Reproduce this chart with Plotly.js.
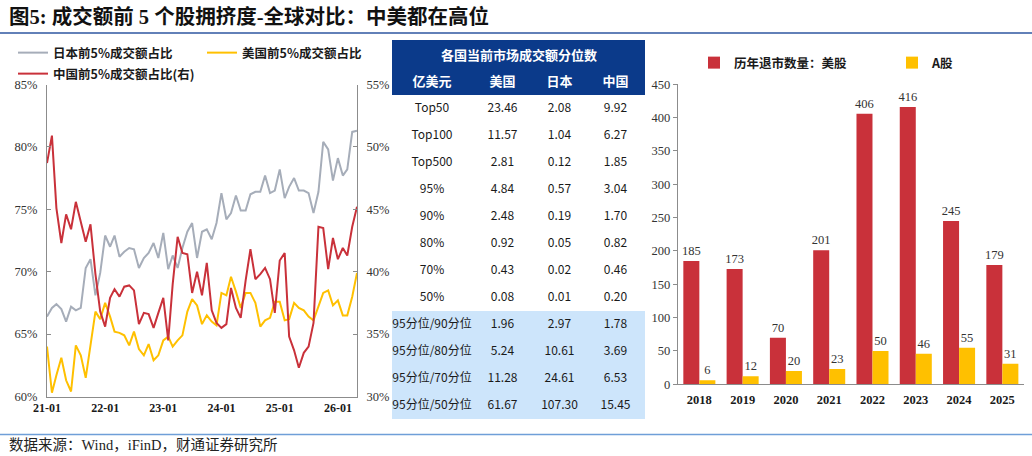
<!DOCTYPE html>
<html><head><meta charset="utf-8">
<script src="https://cdn.plot.ly/plotly-3.0.1.min.js"></script>
<style>body{margin:0;background:#fff}#chart{width:1032px;height:456px}</style>
</head><body><div id="chart"></div>
<script>
// ---- data ----
const months = ['2021-01','2021-02','2021-03','2021-04','2021-05','2021-06','2021-07','2021-08','2021-09','2021-10','2021-11','2021-12',
'2022-01','2022-02','2022-03','2022-04','2022-05','2022-06','2022-07','2022-08','2022-09','2022-10','2022-11','2022-12',
'2023-01','2023-02','2023-03','2023-04','2023-05','2023-06','2023-07','2023-08','2023-09','2023-10','2023-11','2023-12',
'2024-01','2024-02','2024-03','2024-04','2024-05','2024-06','2024-07','2024-08','2024-09','2024-10','2024-11','2024-12',
'2025-01','2025-02','2025-03','2025-04','2025-05','2025-06','2025-07','2025-08','2025-09','2025-10','2025-11','2025-12',
'2026-01','2026-02','2026-03','2026-04','2026-05'];
const monthTicks = ['2021-01','2022-01','2023-01','2024-01','2025-01','2026-01'];
const japanTop5 = [66.4,67.1,67.4,67.0,66.0,67.2,66.9,67.1,70.3,71.0,68.1,69.9,72.9,72.0,72.9,71.2,71.6,71.9,71.8,70.3,
71.1,71.5,72.3,71.1,73.1,70.2,71.3,70.3,71.9,73.2,73.9,71.1,73.2,73.4,72.6,73.9,76.3,74.2,74.7,76.1,
74.9,74.9,76.2,76.4,76.4,77.7,76.3,76.5,78.2,75.9,76.8,77.5,76.5,76.5,76.3,74.7,76.4,80.4,79.8,77.3,
79.1,77.7,78.2,81.2,81.3];
const usTop5 = [64.0,60.3,61.7,63.1,61.3,60.4,64.1,63.3,61.5,64.1,66.8,66.2,67.5,66.4,65.2,65.1,64.9,64.1,65.2,63.8,
63.3,64.2,62.9,63.3,64.5,64.8,64.0,64.5,64.9,66.8,67.8,67.3,65.8,66.5,66.0,65.7,68.3,68.1,69.6,68.4,
67.1,68.3,68.3,67.5,65.6,66.1,66.3,67.6,67.6,66.1,66.2,67.5,67.1,66.9,66.4,66.1,67.2,68.3,68.5,67.3,
67.7,66.5,66.5,68.0,69.9];
const chinaTop5 = [48.7,50.9,45.1,42.3,44.6,43.4,45.6,44.0,42.4,43.8,39.8,36.8,35.6,37.9,38.6,38.0,38.8,38.9,38.5,35.8,
36.7,36.6,35.5,36.7,37.9,34.5,39.0,42.8,41.5,41.4,38.3,40.0,38.1,40.7,36.9,35.9,35.5,35.8,38.7,37.1,
36.3,39.3,41.8,39.4,39.8,40.3,39.4,36.7,40.9,41.5,34.8,33.7,32.3,33.5,34.0,35.9,43.6,43.5,40.2,42.7,
41.0,41.9,41.3,43.6,45.2];

const tableTitle = '各国当前市场成交额分位数';
const tableHeader = ['亿美元','美国','日本','中国'];
const tableRows = ['Top50','Top100','Top500','95%','90%','80%','70%','50%','95分位/90分位','95分位/80分位','95分位/70分位','95分位/50分位'];
const tableUS = ['23.46','11.57','2.81','4.84','2.48','0.92','0.43','0.08','1.96','5.24','11.28','61.67'];
const tableJP = ['2.08','1.04','0.12','0.57','0.19','0.05','0.02','0.01','2.97','10.61','24.61','107.30'];
const tableCN = ['9.92','6.27','1.85','3.04','1.70','0.82','0.46','0.20','1.78','3.69','6.53','15.45'];

const years = ['2018','2019','2020','2021','2022','2023','2024','2025'];
const delistUS = [185,173,70,201,406,416,245,179];
const delistA = [6,12,20,23,50,46,55,31];

// ---- layout helpers ----
const W = 1032, H = 456;
const px = v => v / W;
const py = v => 1 - v / H;
const RED = '#c9313a', GOLD = '#ffc000', GRAY = '#a6adb9', NAVY = '#0b3a8a', LIGHT = '#cde5fb';
const AX = '#8c8c8c';
const SERIF = 'Liberation Serif, Noto Sans CJK SC, serif';
const SANS = 'Noto Sans CJK SC, Noto Sans, sans-serif';
const legFont = {family: SANS, size: 12.5, color: '#1a1a1a', weight: 700};

const rowFill = tableRows.map((r, i) => i < 8 ? '#ffffff' : LIGHT);

const traces = [
  {type:'scatter', mode:'lines', name:'日本前5%成交额占比', x: months, y: japanTop5,
   line:{color:GRAY, width:2}, xaxis:'x', yaxis:'y', legend:'legend', showlegend:true},
  {type:'scatter', mode:'lines', name:'美国前5%成交额占比', x: months, y: usTop5,
   line:{color:GOLD, width:2}, xaxis:'x', yaxis:'y', legend:'legend2', showlegend:true},
  {type:'scatter', mode:'lines', name:'中国前5%成交额占比(右)', x: months, y: chinaTop5,
   line:{color:RED, width:2}, xaxis:'x', yaxis:'y2', legend:'legend3', showlegend:true},
  {type:'table', domain:{x:[px(392), px(645)], y:[py(422), py(68)]},
   columnwidth:[80,61,53,59],
   header:{values: tableHeader, height:27, align:'center',
     fill:{color:NAVY}, line:{width:0, color:NAVY},
     font:{family:SANS, size:13, color:'#ffffff', weight:700}},
   cells:{values:[tableRows, tableUS, tableJP, tableCN], height:27, align:'center',
     fill:{color:[rowFill, rowFill, rowFill, rowFill]}, line:{width:0, color:'#ffffff'},
     font:{family:SANS, size:12, color:'#1a1a1a'}}},
  {type:'bar', name:'历年退市数量：美股', x: years, y: delistUS, marker:{color:RED},
   text: delistUS, textposition:'outside', cliponaxis:false, constraintext:'none',
   textfont:{family:SERIF, size:12.5, color:'#333'}, xaxis:'x2', yaxis:'y3', legend:'legend4', showlegend:true},
  {type:'bar', name:'A股', x: years, y: delistA, marker:{color:GOLD},
   text: delistA, textposition:'outside', cliponaxis:false, constraintext:'none',
   textfont:{family:SERIF, size:12.5, color:'#333'}, xaxis:'x2', yaxis:'y3', legend:'legend5', showlegend:true}
];

const legBase = {xanchor:'left', yanchor:'middle', bgcolor:'rgba(0,0,0,0)', borderwidth:0,
  font: legFont, itemwidth:30, orientation:'h'};

const layout = {
  width: W, height: H, margin:{l:0, r:0, t:0, b:0}, showlegend:true,
  paper_bgcolor:'#ffffff', plot_bgcolor:'rgba(0,0,0,0)',
  font:{family: SERIF, color:'#333'},
  barmode:'group', bargap:0.26, bargroupgap:0,
  xaxis:{type:'date', domain:[px(47), px(357)], range:['2021-01-01','2026-05-01'],
    tickvals: monthTicks, tickformat:'%y-%m', anchor:'y',
    showline:true, linecolor:AX, linewidth:1, ticks:'', showgrid:false, zeroline:false,
    tickfont:{family:SERIF, size:12, color:'#1a1a1a', weight:700}},
  yaxis:{domain:[py(396.5), py(84.5)], range:[60,85], dtick:5, ticksuffix:'%', anchor:'x',
    showline:true, linecolor:AX, ticks:'inside', ticklen:4, tickcolor:AX,
    showgrid:false, zeroline:false, ticklabelstandoff:6,
    tickfont:{family:SERIF, size:12.5, color:'#333'}},
  yaxis2:{overlaying:'y', side:'right', anchor:'x', range:[30,55], dtick:5, ticksuffix:'%',
    showline:true, linecolor:AX, ticks:'inside', ticklen:4, tickcolor:AX,
    showgrid:false, zeroline:false, ticklabelstandoff:6,
    tickfont:{family:SERIF, size:12.5, color:'#333'}},
  xaxis2:{type:'category', domain:[px(677.7), px(1024)], anchor:'y3',
    showline:true, linecolor:AX, ticks:'', showgrid:false, zeroline:false, ticklabelstandoff:4,
    tickfont:{family:SERIF, size:12.5, color:'#1a1a1a', weight:700}},
  yaxis3:{domain:[py(384.3), py(84.3)], range:[0,450], dtick:50, anchor:'x2',
    showline:true, linecolor:AX, ticks:'outside', ticklen:4, tickcolor:AX,
    showgrid:false, zeroline:false,
    tickfont:{family:SERIF, size:12.5, color:'#333'}},
  legend: Object.assign({}, legBase, {x:px(13), y:py(53)}),
  legend2: Object.assign({}, legBase, {x:px(202), y:py(53)}),
  legend3: Object.assign({}, legBase, {x:px(13), y:py(74)}),
  legend4: Object.assign({}, legBase, {x:px(694), y:py(63)}),
  legend5: Object.assign({}, legBase, {x:px(892), y:py(63)}),
  shapes:[
    {type:'line', xref:'paper', yref:'paper', x0:0, x1:1, y0:py(33), y1:py(33),
     line:{color:'#2e56a0', width:1.5}},
    {type:'line', xref:'paper', yref:'paper', x0:0, x1:1, y0:py(434.5), y1:py(434.5),
     line:{color:'#6f9fd8', width:1.5}},
    {type:'rect', xref:'paper', yref:'paper', x0:px(392), x1:px(645), y0:py(68), y1:py(40),
     fillcolor:NAVY, line:{width:0}}
  ],
  annotations:[
    {text:'图5: 成交额前 5 个股拥挤度-全球对比：中美都在高位', xref:'paper', yref:'paper',
     x:px(7), y:py(16), xanchor:'left', yanchor:'middle', showarrow:false,
     font:{family:SERIF, size:20.5, color:'#111', weight:700}},
    {text: tableTitle, xref:'paper', yref:'paper', x:px(518.5), y:py(54),
     xanchor:'center', yanchor:'middle', showarrow:false,
     font:{family:SANS, size:13, color:'#ffffff', weight:700}},
    {text:'数据来源：Wind，iFinD，财通证券研究所', xref:'paper', yref:'paper',
     x:px(7), y:py(445), xanchor:'left', yanchor:'middle', showarrow:false,
     font:{family:SERIF, size:14.5, color:'#222'}}
  ]
};

Plotly.newPlot('chart', traces, layout, {displayModeBar:false, staticPlot:true});
</script>
</body></html>
